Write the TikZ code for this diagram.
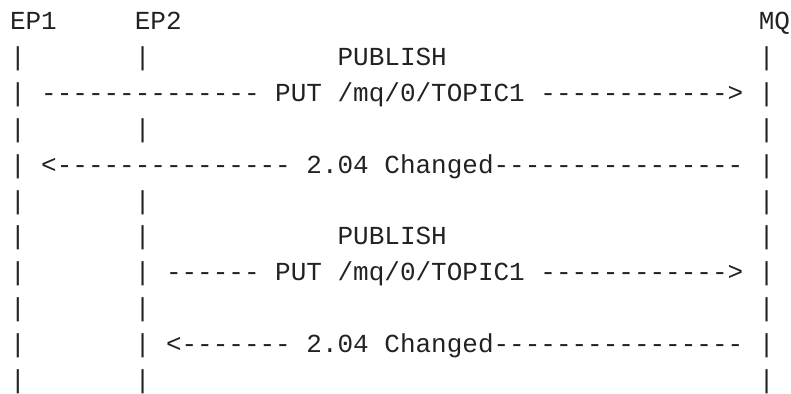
\documentclass[tikz,border=0pt]{standalone}
\usepackage{fontspec}
\setmonofont{Liberation Mono}
\definecolor{ink}{HTML}{222222}
\tikzset{txt/.style={anchor=base west, inner sep=0pt, outer sep=0pt, text=ink, font=\ttfamily\fontsize{26}{30}\selectfont}}
\newcommand\tok[4]{\node[txt] (#1) at ({10+#2*15.6},{30+#3*35.8}) {#4};}
\begin{document}
\begin{tikzpicture}[x=1pt,y=-1pt]
\useasboundingbox (0,0) rectangle (791,393);
% row 0: headers
\tok{ep1}{0}{0}{EP1}
\tok{ep2}{8}{0}{EP2}
\tok{mq}{48}{0}{MQ}
% row 1
\tok{a1}{0}{1}{|}
\tok{b1}{8}{1}{|}
\tok{pub1}{21}{1}{PUBLISH}
\tok{c1}{48}{1}{|}
% row 2
\tok{a2}{0}{2}{|}
\tok{put1}{2}{2}{-------------- PUT /mq/0/TOPIC1 ------------>}
\tok{c2}{48}{2}{|}
% row 3
\tok{a3}{0}{3}{|}
\tok{b3}{8}{3}{|}
\tok{c3}{48}{3}{|}
% row 4
\tok{a4}{0}{4}{|}
\tok{chg1}{2}{4}{<--------------- 2.04 Changed----------------}
\tok{c4}{48}{4}{|}
% row 5
\tok{a5}{0}{5}{|}
\tok{b5}{8}{5}{|}
\tok{c5}{48}{5}{|}
% row 6
\tok{a6}{0}{6}{|}
\tok{b6}{8}{6}{|}
\tok{pub2}{21}{6}{PUBLISH}
\tok{c6}{48}{6}{|}
% row 7
\tok{a7}{0}{7}{|}
\tok{b7}{8}{7}{|}
\tok{put2}{10}{7}{------ PUT /mq/0/TOPIC1 ------------>}
\tok{c7}{48}{7}{|}
% row 8
\tok{a8}{0}{8}{|}
\tok{b8}{8}{8}{|}
\tok{c8}{48}{8}{|}
% row 9
\tok{a9}{0}{9}{|}
\tok{b9}{8}{9}{|}
\tok{chg2}{10}{9}{<------- 2.04 Changed----------------}
\tok{c9}{48}{9}{|}
% row 10
\tok{a10}{0}{10}{|}
\tok{b10}{8}{10}{|}
\tok{c10}{48}{10}{|}
\end{tikzpicture}
\end{document}
